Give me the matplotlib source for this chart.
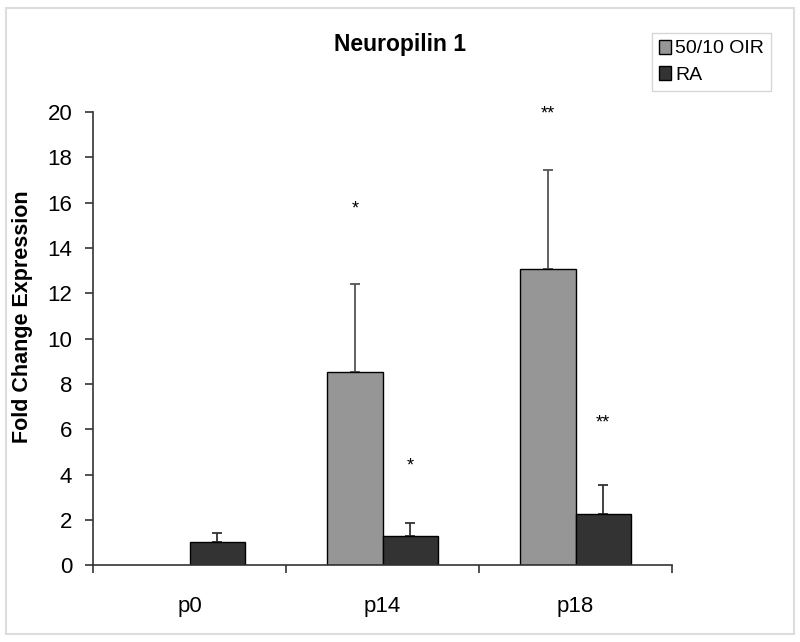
import matplotlib
matplotlib.use("Agg")
import matplotlib.pyplot as plt
from matplotlib.patches import Rectangle
import numpy as np

plt.rcParams['font.family'] = ['Liberation Sans', 'DejaVu Sans']

categories = ["p0", "p14", "p18"]
oir_values = [0.0, 8.55, 13.08]
oir_err = [0.0, 3.85, 4.37]
ra_values = [1.02, 1.3, 2.26]
ra_err = [0.43, 0.56, 1.29]
oir_stars = ["", "*", "**"]
oir_star_y = [0, 15.7, 19.9]
ra_stars = ["", "*", "**"]
ra_star_y = [0, 4.4, 6.3]
yticks = [0, 2, 4, 6, 8, 10, 12, 14, 16, 18, 20]

fig = plt.figure(figsize=(8, 6.42), dpi=100)
ax = fig.add_axes([0.11625, 0.1192, 0.72375, 0.7064])

x = np.arange(len(categories))
w = 1 / 3.5

gray = "#969696"
dark = "#333333"

oir_mask = [v > 0 for v in oir_values]
xo = x[oir_mask] - w / 2
ax.bar(xo, np.array(oir_values)[oir_mask], width=w, color=gray,
       edgecolor="black", linewidth=1, label="50/10 OIR", zorder=2)
ax.errorbar(xo, np.array(oir_values)[oir_mask],
            yerr=[np.zeros(sum(oir_mask)), np.array(oir_err)[oir_mask]],
            fmt="none", ecolor="#555555", elinewidth=1.3, capsize=3.5, capthick=1.3, zorder=1)
ax.bar(x + w / 2, ra_values, width=w, color=dark,
       edgecolor="black", linewidth=1, label="RA", zorder=2)
ax.errorbar(x + w / 2, ra_values, yerr=[np.zeros(len(ra_values)), ra_err],
            fmt="none", ecolor="#333333", elinewidth=1.3, capsize=3.5, capthick=1.3, zorder=1)

for i in range(len(categories)):
    if oir_stars[i]:
        ax.text(x[i] - w / 2, oir_star_y[i], oir_stars[i], ha="center", va="center", fontsize=13)
    if ra_stars[i]:
        ax.text(x[i] + w / 2, ra_star_y[i], ra_stars[i], ha="center", va="center", fontsize=13)

ax.set_xlim(-0.5, len(categories) - 0.5)
ax.set_ylim(0, 20)
ax.set_yticks(yticks)
ax.set_yticklabels([str(t) for t in yticks], fontsize=16)
ax.set_xticks(x)
ax.set_xticklabels(categories, fontsize=16)
ax.tick_params(axis="x", which="major", length=0, pad=22)
ax.set_xticks(np.arange(len(categories) + 1) - 0.5, minor=True)
ax.tick_params(axis="x", which="minor", length=6, direction="out", width=1.2, color="#333333")
ax.tick_params(axis="y", length=6, direction="out", width=1.2, color="#333333", pad=9)

for s in ["top", "right"]:
    ax.spines[s].set_visible(False)
ax.spines["left"].set_linewidth(1.2)
ax.spines["bottom"].set_linewidth(1.2)
ax.spines["left"].set_color("#333333")
ax.spines["bottom"].set_color("#333333")

ax.set_ylabel("Fold Change Expression", fontsize=15.5, fontweight="bold")
ax.yaxis.set_label_coords(-0.104, 0.548)
fig.text(0.5, 0.93, "Neuropilin 1", ha="center", va="center", fontsize=16.5, fontweight="bold")

leg = fig.legend(loc="upper left", bbox_to_anchor=(0.815, 0.949), fontsize=14,
                 frameon=True, fancybox=False, handlelength=0.65, handleheight=0.75,
                 handletextpad=0.2, borderpad=0.35, labelspacing=0.45, borderaxespad=0)
leg.get_frame().set_edgecolor("#cccccc")
leg.get_frame().set_linewidth(1)

fig.patches.append(Rectangle((0.008, 0.012), 0.984, 0.975, transform=fig.transFigure,
                             fill=False, edgecolor="#dddddd", linewidth=1.5))

fig.savefig("out.png", dpi=100)
